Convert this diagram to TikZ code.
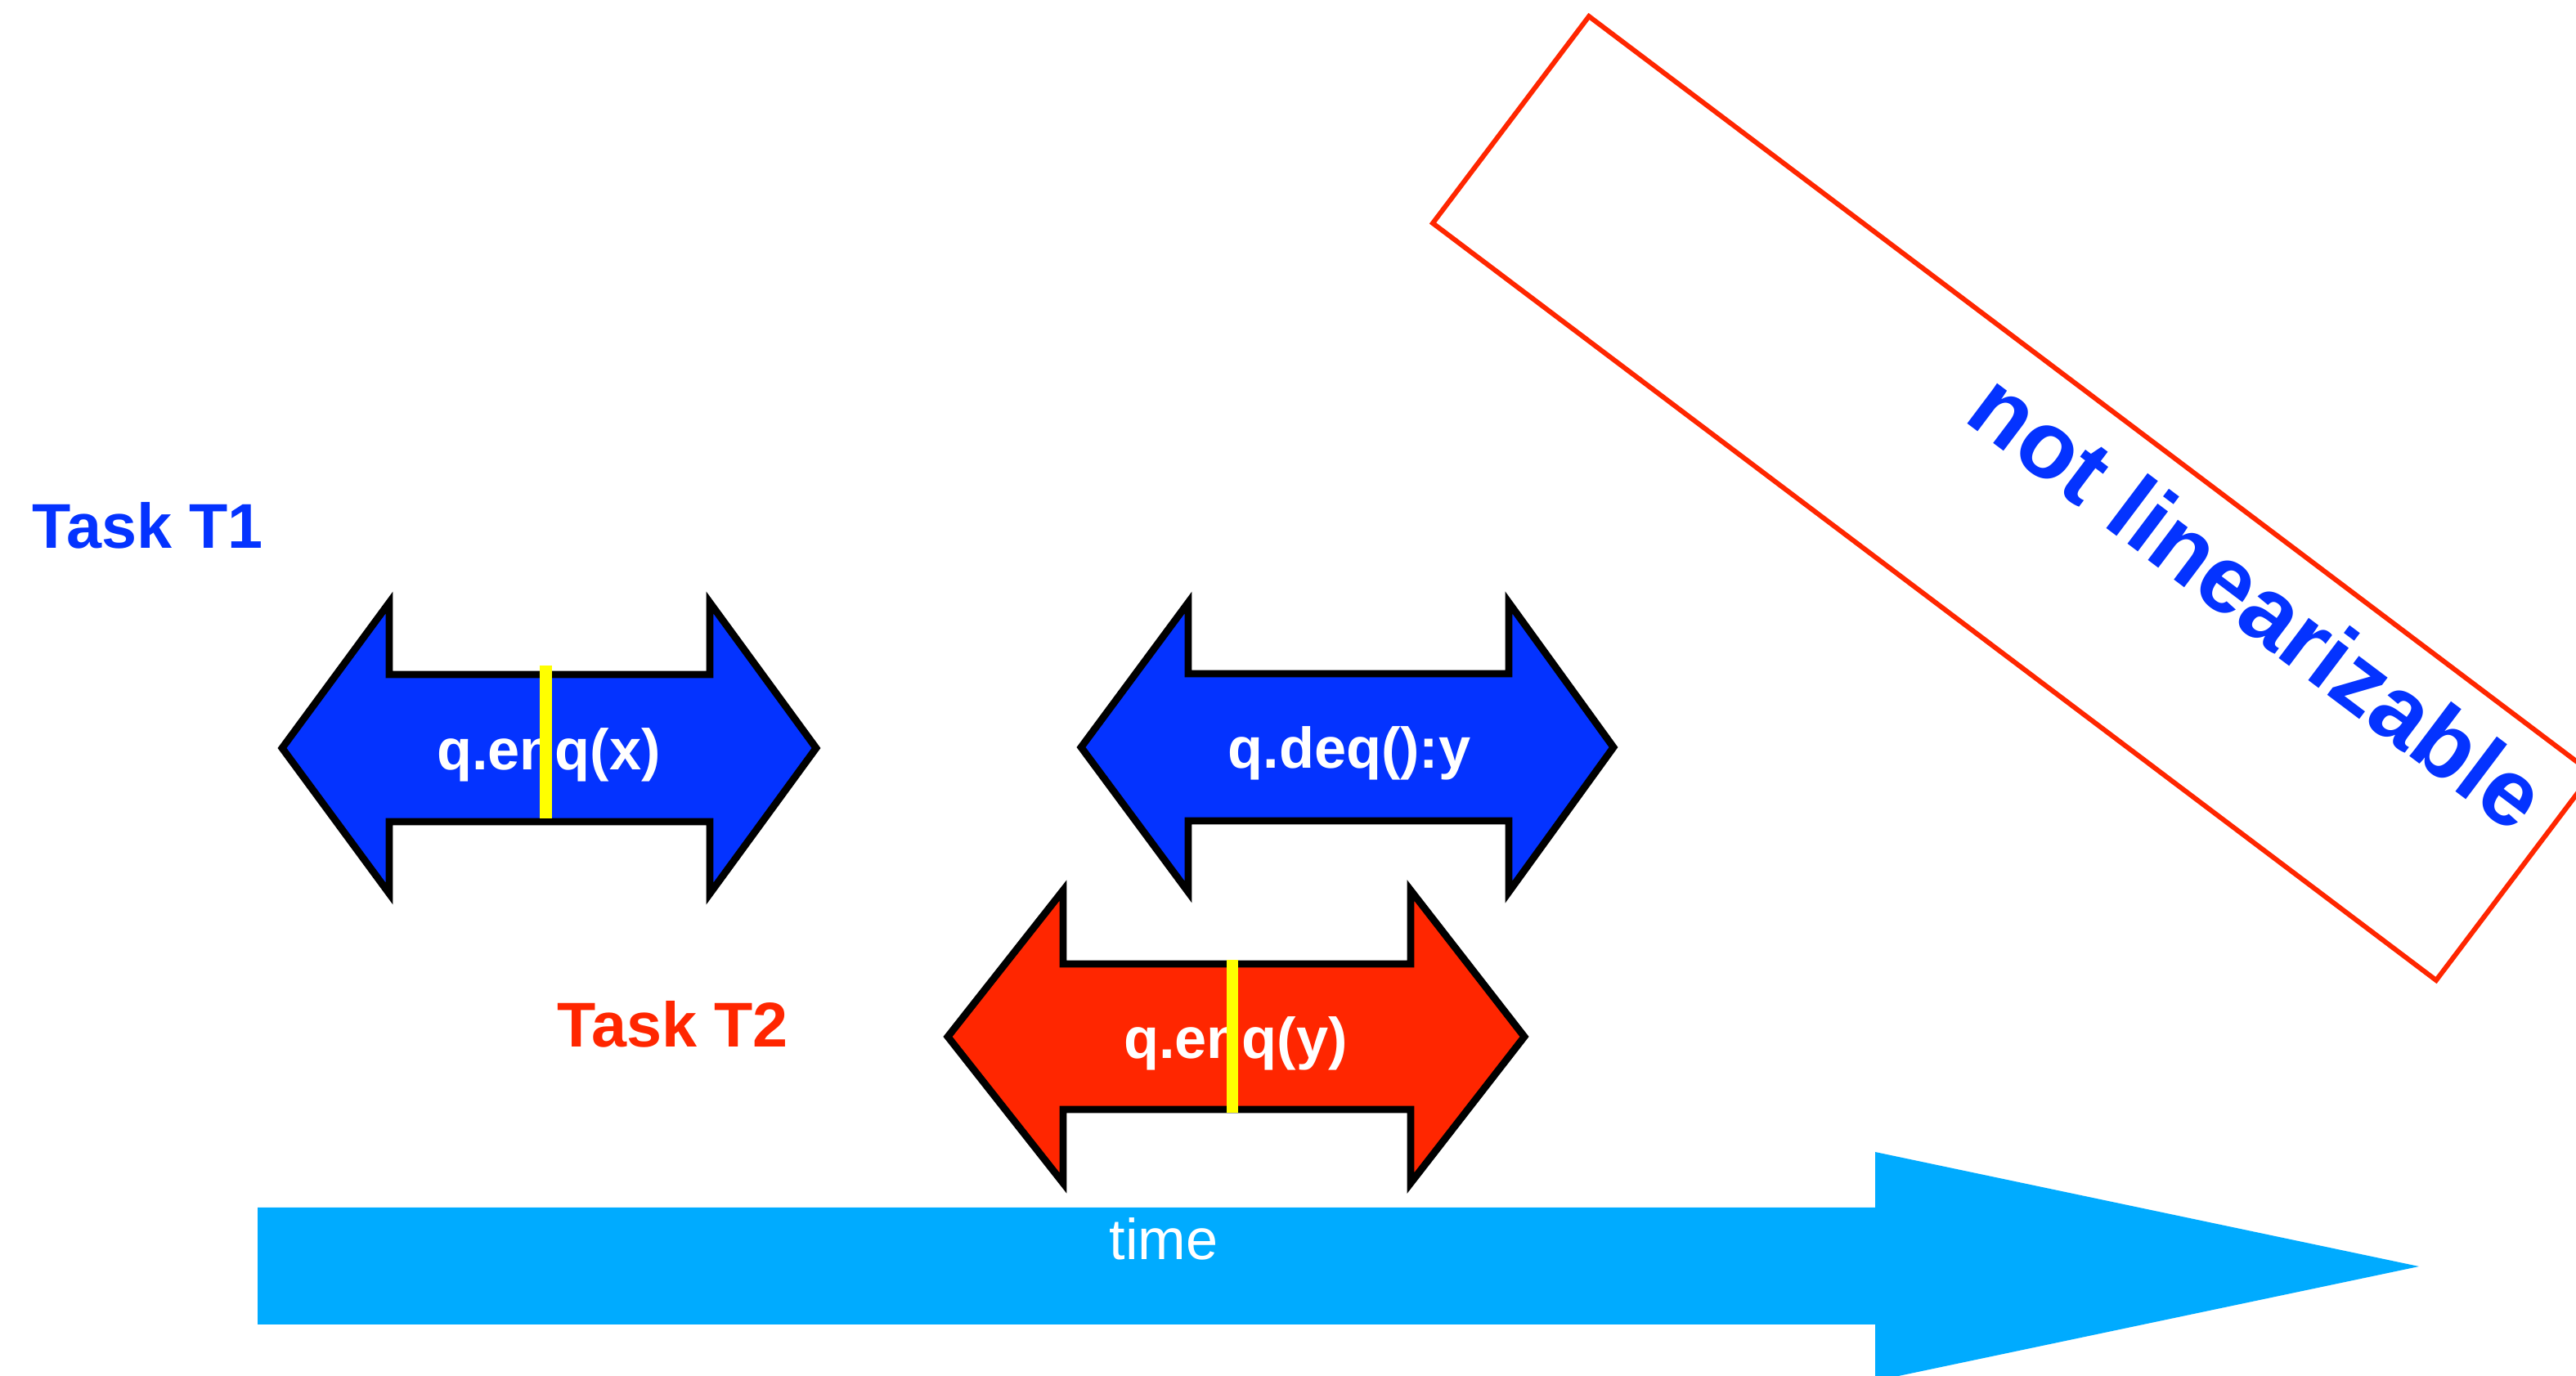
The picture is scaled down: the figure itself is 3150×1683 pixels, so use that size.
\documentclass[tikz,border=0pt]{standalone}
\usepackage{fontspec}
\setmainfont{Liberation Sans}
\definecolor{tblue}{HTML}{0433FF}
\definecolor{tred}{HTML}{FF2600}
\definecolor{tyellow}{HTML}{FFFF00}
\definecolor{tcyan}{HTML}{00ABFF}
\tikzset{
  opshape/.style={draw=black, line width=2.5pt, line join=miter},
  oplabel/.style={text=white, font=\bfseries\fontsize{20}{24}\selectfont, inner sep=0pt, anchor=base},
  linpoint/.style={fill=tyellow, draw=none},
  tasklabel/.style={font=\bfseries\fontsize{22}{26}\selectfont, inner sep=0pt, anchor=base west},
}
\begin{document}
\begin{tikzpicture}[x=0.01cm, y=-0.01cm]
\useasboundingbox (0,0) rectangle (3150,1683);
\clip (0,0) rectangle (3150,1683);

% rotated box
\draw[tred, line width=1.7pt, line join=miter] (1943,20) -- (1752,273) -- (2979,1199) -- (3170,946) -- cycle;
\node[rotate=-37, anchor=base west, inner sep=0pt, text=tblue, font=\bfseries\fontsize{33}{40}\selectfont] (nl) at (2399,513) {not linearizable};

% task labels
\node[tasklabel, text=tblue] (t1) at (39,671) {Task T1};
\node[tasklabel, text=tred] (t2) at (681,1281) {Task T2};

% time arrow
\fill[tcyan] (315,1477) -- (2293,1477) -- (2293,1409) -- (2958,1549) -- (2293,1689) -- (2293,1620) -- (315,1620) -- cycle;
\node[text=white, font=\fontsize{20}{24}\selectfont, inner sep=0pt, anchor=base] (time) at (1423,1541) {time};

% T1 enq(x)
\draw[opshape, fill=tblue] (345,915) -- (476,737) -- (476,825) -- (868,825) -- (868,737) -- (998,915) -- (868,1093) -- (868,1005) -- (476,1005) -- (476,1093) -- cycle;
\node[oplabel] (enqx) at (671,942) {q.enq(x)};
\fill[linpoint] (660,814) rectangle (675,1001);

% T1 deq
\draw[opshape, fill=tblue] (1322,914) -- (1453,737) -- (1453,824) -- (1845,824) -- (1845,737) -- (1973,914) -- (1845,1091) -- (1845,1004) -- (1453,1004) -- (1453,1091) -- cycle;
\node[oplabel] (deqy) at (1650,940) {q.deq():y};

% T2 enq(y)
\draw[opshape, fill=tred] (1159,1268) -- (1300,1089) -- (1300,1179) -- (1725,1179) -- (1725,1089) -- (1864,1268) -- (1725,1447) -- (1725,1357) -- (1300,1357) -- (1300,1447) -- cycle;
\node[oplabel] (enqy) at (1511,1295) {q.enq(y)};
\fill[linpoint] (1500,1174) rectangle (1514,1361);
\end{tikzpicture}
\end{document}
